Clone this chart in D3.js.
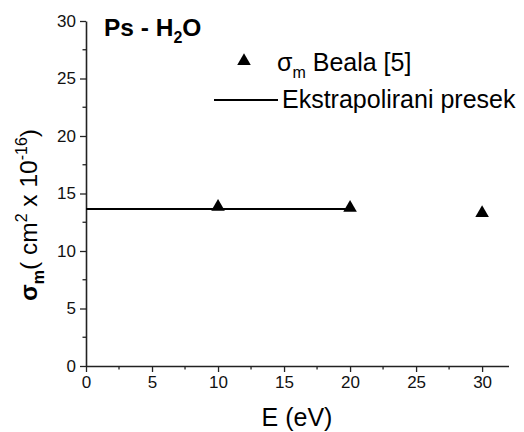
<!DOCTYPE html>
<html>
<head>
<meta charset="utf-8">
<script src="https://cdn.jsdelivr.net/npm/d3@7"></script>
<style>
  body { margin: 0; background: #fff; }
  svg { font-family: Arial, "Liberation Sans", sans-serif; }
</style>
</head>
<body>
<svg id="chart" width="524" height="432"></svg>
<script>
// measured points (Beala [5])
var energy = [10, 20, 30];
var sigma = [13.85, 13.75, 13.3];

// extrapolated cross section line
var extraE = [0, 20];
var extraSigma = [13.65, 13.65];

var xTicks = [0, 5, 10, 15, 20, 25, 30];
var yTicks = [0, 5, 10, 15, 20, 25, 30];

var svg = d3.select('#chart');

var x = d3.scaleLinear().domain([0, 32]).range([86, 508.5]);
var y = d3.scaleLinear().domain([0, 30]).range([366, 21]);

// x axis
var xAxis = svg.append('g').attr('transform', 'translate(0,366)');
xAxis.call(d3.axisBottom(x).tickValues(xTicks).tickSize(6).tickSizeOuter(0).tickPadding(4));
xAxis.append('g').selectAll('line')
    .data(d3.range(2.5, 32, 5))
    .enter().append('line')
    .attr('x1', d => x(d)).attr('x2', d => x(d))
    .attr('y1', 0).attr('y2', 3.5)
    .attr('stroke', '#222').attr('stroke-width', 1.3);

// y axis
var yAxis = svg.append('g').attr('transform', 'translate(86,0)');
yAxis.call(d3.axisLeft(y).tickValues(yTicks).tickSize(6).tickSizeOuter(0).tickPadding(4));
yAxis.append('g').selectAll('line')
    .data(d3.range(2.5, 30, 5))
    .enter().append('line')
    .attr('y1', d => y(d)).attr('y2', d => y(d))
    .attr('x1', 0).attr('x2', -3.5)
    .attr('stroke', '#222').attr('stroke-width', 1.3);

svg.selectAll('.domain').attr('stroke', '#222').attr('stroke-width', 1.6);
svg.selectAll('.tick line').attr('stroke', '#222').attr('stroke-width', 1.3);
svg.selectAll('.tick text').attr('font-size', '17px').attr('fill', '#111')
    .attr('font-family', 'Arial, "Liberation Sans", sans-serif');

// extrapolated line
var line = d3.line().x(d => x(d[0])).y(d => y(d[1]));
svg.append('path')
    .datum(d3.zip(extraE, extraSigma))
    .attr('d', line)
    .attr('fill', 'none')
    .attr('stroke', '#000')
    .attr('stroke-width', 2);

// triangles
var tri = d3.symbol().type(d3.symbolTriangle).size(80);
svg.selectAll('.pt')
    .data(d3.zip(energy, sigma))
    .enter().append('path')
    .attr('class', 'pt')
    .attr('d', tri)
    .attr('transform', d => 'translate(' + x(d[0]) + ',' + y(d[1]) + ')')
    .attr('fill', '#000');

// title
var title = svg.append('text')
    .attr('x', 104).attr('y', 36)
    .attr('font-size', '24.5px').attr('font-weight', 'bold');
title.append('tspan').text('Ps - H');
title.append('tspan').attr('font-size', '16px').attr('dy', 7).text('2');
title.append('tspan').attr('dy', -7).text('O');

// legend
svg.append('path')
    .attr('d', tri)
    .attr('transform', 'translate(244,61)')
    .attr('fill', '#000');
var leg1 = svg.append('text').attr('x', 277).attr('y', 71).attr('font-size', '25px');
leg1.append('tspan').text('σ');
leg1.append('tspan').attr('font-size', '16px').attr('dy', 7).text('m');
leg1.append('tspan').attr('dy', -7).text(' Beala [5]');

svg.append('line')
    .attr('x1', 214).attr('x2', 278)
    .attr('y1', 100).attr('y2', 100)
    .attr('stroke', '#000').attr('stroke-width', 2);
svg.append('text').attr('x', 282).attr('y', 108).attr('font-size', '25px')
    .text('Ekstrapolirani presek');

// axis labels
svg.append('text')
    .attr('x', 297).attr('y', 426)
    .attr('text-anchor', 'middle')
    .attr('font-size', '25px')
    .text('E (eV)');

var yl = svg.append('text')
    .attr('transform', 'translate(37,215) rotate(-90)')
    .attr('text-anchor', 'middle')
    .attr('font-size', '24.5px');
yl.append('tspan').attr('font-weight', 'bold').text('σ');
yl.append('tspan').attr('font-weight', 'bold').attr('font-size', '16px').attr('dy', 7).text('m');
yl.append('tspan').attr('dy', -7).text('( cm');
yl.append('tspan').attr('font-size', '16px').attr('dy', -10).text('2');
yl.append('tspan').attr('dy', 10).text(' x 10');
yl.append('tspan').attr('font-size', '16px').attr('dy', -10).text('-16');
yl.append('tspan').attr('dy', 10).text(')');
</script>
</body>
</html>
